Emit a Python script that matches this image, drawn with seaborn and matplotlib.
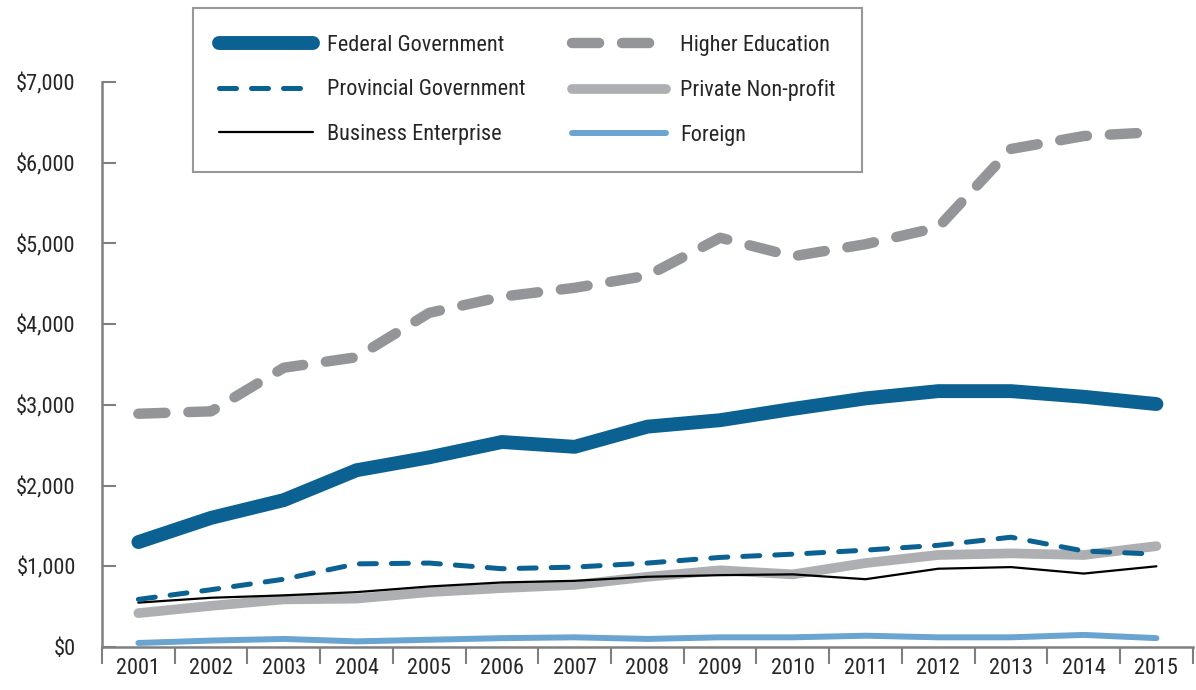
import matplotlib
matplotlib.use("Agg")
import matplotlib.pyplot as plt
import seaborn as sns
from matplotlib import font_manager
from matplotlib.ticker import FuncFormatter, MultipleLocator

years = list(range(2001, 2016))

federal = [1300, 1600, 1820, 2190, 2350, 2540, 2480, 2730, 2810, 2950, 3080, 3170, 3170, 3100, 3010]
higher_ed = [2890, 2920, 3460, 3590, 4140, 4340, 4450, 4600, 5070, 4840, 4990, 5200, 6170, 6330, 6380]
provincial = [590, 710, 840, 1030, 1040, 970, 990, 1040, 1110, 1150, 1200, 1260, 1360, 1190, 1150]
business = [550, 610, 640, 680, 750, 800, 820, 870, 890, 900, 840, 970, 990, 910, 1000]
private_np = [420, 510, 590, 600, 680, 730, 770, 870, 950, 900, 1040, 1140, 1160, 1140, 1250]
foreign = [50, 80, 100, 70, 90, 110, 120, 100, 120, 120, 140, 120, 120, 150, 110]

sns.set_style("white")
installed = {f.name for f in font_manager.fontManager.ttflist}
fams = [f for f in ["Liberation Sans Narrow", "Roboto Condensed", "Lato", "Roboto"] if f in installed]
plt.rcParams['font.family'] = fams[:1] + ['DejaVu Sans']

fig = plt.figure(figsize=(11.96, 6.9), dpi=100)
ax = fig.add_axes([0.0853, 0.0623, 0.912, 0.8189])

dark_blue = "#0b6191"

# draw order: thin/low lines first, federal last
sns.lineplot(x=years, y=private_np, ax=ax, color="#aeafb2", lw=7, solid_capstyle="round", label="Private Non-profit")
sns.lineplot(x=years, y=business, ax=ax, color="black", lw=1.6, label="Business Enterprise")
sns.lineplot(x=years, y=foreign, ax=ax, color="#6aa4d1", lw=4.3, solid_capstyle="round", label="Foreign")
sns.lineplot(x=years, y=provincial, ax=ax, color=dark_blue, lw=3.6, linestyle=(0, (3.4, 3.0)),
             dash_capstyle="round", label="Provincial Government")
sns.lineplot(x=years, y=higher_ed, ax=ax, color="#949598", lw=7.5, linestyle=(0, (2.6, 2.2)),
             dash_capstyle="round", label="Higher Education")
sns.lineplot(x=years, y=federal, ax=ax, color=dark_blue, lw=10, solid_capstyle="round", label="Federal Government")

handles, labels = ax.get_legend_handles_labels()
ax.get_legend().remove()

ax.set_xlim(2000.5, 2015.5)
ax.set_ylim(0, 7000)
ax.set_xlabel("")
ax.set_ylabel("")

ax.set_xticks(years)
ax.set_xticklabels([str(y) for y in years])
ax.xaxis.set_minor_locator(MultipleLocator(1, offset=0.5))
ax.tick_params(axis="x", which="major", length=0, pad=8, labelsize=16)
ax.tick_params(axis="x", which="minor", direction="out", length=12, width=1.5, color="#7f7f7f", bottom=True)
ax.yaxis.set_major_locator(MultipleLocator(1000))
ax.yaxis.set_major_formatter(FuncFormatter(lambda v, p: f"${v:,.0f}"))
ax.tick_params(axis="y", which="major", direction="in", length=10, width=1.5, color="#7f7f7f",
               pad=19, labelsize=16, left=True)

for s in ["top", "right"]:
    ax.spines[s].set_visible(False)
for s in ["left", "bottom"]:
    ax.spines[s].set_color("#7f7f7f")
    ax.spines[s].set_linewidth(1.8)

order = ["Federal Government", "Provincial Government", "Business Enterprise",
         "Higher Education", "Private Non-profit", "Foreign"]
hmap = dict(zip(labels, handles))
leg = fig.legend([hmap[k] for k in order], order, ncol=2, loc="upper left",
                 bbox_to_anchor=(0.161, 0.988), frameon=True, fancybox=False,
                 fontsize=16, handlelength=4.2, handletextpad=0.65, columnspacing=2.1,
                 labelspacing=1.05, borderpad=1.2, borderaxespad=0)
leg.get_frame().set_edgecolor("#7f7f7f")
leg.get_frame().set_linewidth(1.5)

fig.savefig("out.png", dpi=100)
